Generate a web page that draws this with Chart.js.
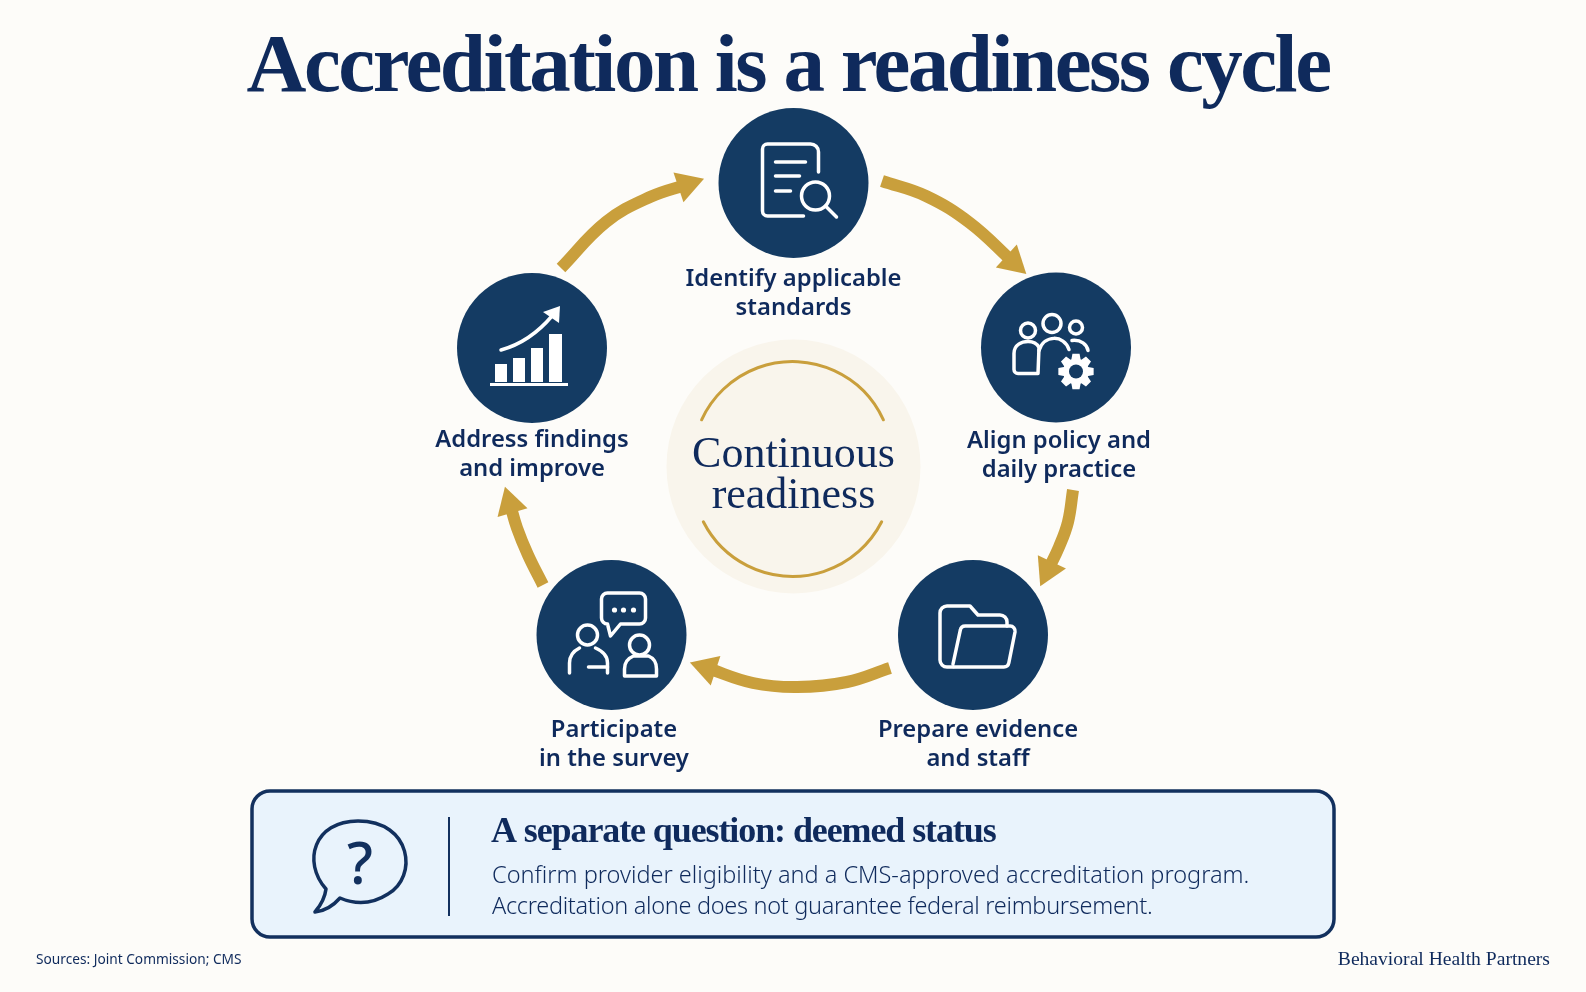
<!DOCTYPE html>
<html>
<head>
<meta charset="utf-8">
<title>Accreditation is a readiness cycle</title>
<script src="https://cdn.jsdelivr.net/npm/chart.js@4"></script>
<style>
html, body { margin: 0; padding: 0; background: #fdfcf9; }
#wrap { width: 1586px; height: 992px; }
</style>
</head>
<body>
<div id="wrap"><canvas id="cycleChart"></canvas></div>
<script>
// the five steps, in cycle order
const stepLabels = [
    ['Identify applicable', 'standards'],
    ['Align policy and', 'daily practice'],
    ['Prepare evidence', 'and staff'],
    ['Participate', 'in the survey'],
    ['Address findings', 'and improve']
];
const stepX = [793.5, 1056, 973, 611.5, 532];
const stepY = [183, 347.5, 635, 635, 348];
const labelX = [793.5, 1059, 978, 614, 532];
const labelY = [286, 447.5, 737, 737, 446.5];

// arrows between steps, the last point is where the head sits
const arrow1 = [{x: 882, y: 181}, {x: 926, y: 196}, {x: 970, y: 223}, {x: 1013, y: 262}];
const arrow2 = [{x: 1073, y: 490}, {x: 1068, y: 522}, {x: 1059, y: 547}, {x: 1048, y: 570}];
const arrow3 = [{x: 890, y: 668}, {x: 847, y: 682}, {x: 797, y: 687}, {x: 753, y: 683}, {x: 707, y: 668}];
const arrow4 = [{x: 543, y: 585}, {x: 528, y: 555}, {x: 517, y: 528}, {x: 510, y: 504}];
const arrow5 = [{x: 561, y: 268}, {x: 606, y: 222}, {x: 650, y: 197}, {x: 687, y: 184.5}];

const hubX = [793.5];
const hubY = [466.5];
const hubLabel = ['Continuous', 'readiness'];

const titleText = 'Accreditation is a readiness cycle';
const noteTitle = 'A separate question: deemed status';
const noteLines = [
    'Confirm provider eligibility and a CMS-approved accreditation program.',
    'Accreditation alone does not guarantee federal reimbursement.'
];
const sourceText = 'Sources: Joint Commission; CMS';
const brandText = 'Behavioral Health Partners';

const navy = '#0f2a5c';
const circleBlue = '#143b63';
const gold = '#c99f3c';
const serif = '"Liberation Serif", serif';
const sans = '"Noto Sans", sans-serif';

function arrowDataset(points) {
    const n = points.length;
    const a = points[n - 2];
    const b = points[n - 1];
    const rot = Math.atan2(b.x - a.x, a.y - b.y) * 180 / Math.PI;
    return {
        data: points,
        showLine: true,
        tension: 0.4,
        borderColor: gold,
        borderWidth: 12,
        borderCapStyle: 'butt',
        pointStyle: 'triangle',
        pointRadius: points.map((p, i) => i === n - 1 ? 18 : 0),
        pointRotation: rot,
        pointBackgroundColor: gold,
        pointBorderWidth: 0,
        clip: false,
        order: 3
    };
}

function text(ctx, str, x, y, font, color, align, spacing) {
    ctx.font = font;
    ctx.fillStyle = color;
    ctx.textAlign = align || 'center';
    ctx.textBaseline = 'alphabetic';
    ctx.letterSpacing = spacing || '0px';
    ctx.fillText(str, x, y);
    ctx.letterSpacing = '0px';
}

function line(ctx, x1, y1, x2, y2) {
    ctx.beginPath();
    ctx.moveTo(x1, y1);
    ctx.lineTo(x2, y2);
    ctx.stroke();
}

function circle(ctx, x, y, r) {
    ctx.beginPath();
    ctx.arc(x, y, r, 0, Math.PI * 2);
    ctx.stroke();
}

function iconDocument(ctx) {
    ctx.beginPath();
    ctx.moveTo(25, -11);
    ctx.lineTo(25, -31);
    ctx.arcTo(25, -39, 17, -39, 8);
    ctx.lineTo(-26, -39);
    ctx.arcTo(-31, -39, -31, -34, 5);
    ctx.lineTo(-31, 28);
    ctx.arcTo(-31, 33, -26, 33, 5);
    ctx.lineTo(10, 33);
    ctx.stroke();
    line(ctx, -18, -21, 12, -21);
    line(ctx, -18, -7, 6, -7);
    line(ctx, -18, 8, -3, 8);
    circle(ctx, 22, 13, 14);
    line(ctx, 32, 23, 43, 34);
}

function iconPeople(ctx) {
    circle(ctx, -28, -17, 7.5);
    circle(ctx, -4, -24, 9);
    circle(ctx, 20, -20, 6.5);
    ctx.beginPath();
    ctx.moveTo(-18, 26);
    ctx.lineTo(-38, 26);
    ctx.arcTo(-42, 26, -42, 22, 4);
    ctx.lineTo(-42, 6);
    ctx.bezierCurveTo(-42, -3, -34, -6, -28, -6);
    ctx.bezierCurveTo(-23, -6, -19, -4, -17, 0);
    ctx.lineTo(-18, 26);
    ctx.stroke();
    ctx.beginPath();
    ctx.moveTo(-17, 3);
    ctx.bezierCurveTo(-12, -13, 8, -13, 13, 2);
    ctx.stroke();
    ctx.beginPath();
    ctx.moveTo(16, -7);
    ctx.bezierCurveTo(25, -8, 31, -3, 32, 3);
    ctx.stroke();
    // gear
    ctx.save();
    ctx.translate(20, 24);
    ctx.beginPath();
    for (let i = 0; i < 8; i++) {
        const a = i * Math.PI / 4;
        for (const [r, d] of [[13, -0.36], [18, -0.2], [18, 0.2], [13, 0.36]]) {
            ctx.lineTo(Math.cos(a + d) * r, Math.sin(a + d) * r);
        }
    }
    ctx.closePath();
    ctx.fill();
    ctx.fillStyle = circleBlue;
    ctx.beginPath();
    ctx.arc(0, 0, 7, 0, Math.PI * 2);
    ctx.fill();
    ctx.restore();
}

function iconFolder(ctx) {
    ctx.beginPath();
    ctx.moveTo(-20, 32);
    ctx.lineTo(-26, 32);
    ctx.arcTo(-33, 32, -33, 25, 7);
    ctx.lineTo(-33, -22);
    ctx.arcTo(-33, -29, -26, -29, 7);
    ctx.lineTo(-3, -29);
    ctx.lineTo(5, -20);
    ctx.lineTo(27, -20);
    ctx.arcTo(34, -20, 34, -13, 7);
    ctx.lineTo(34, -9);
    ctx.stroke();
    ctx.beginPath();
    ctx.moveTo(-19, 32);
    ctx.lineTo(30, 32);
    ctx.arcTo(35, 32, 36, 27, 5);
    ctx.lineTo(42, -3);
    ctx.arcTo(43, -9, 37, -9, 5);
    ctx.lineTo(-6, -9);
    ctx.arcTo(-12, -9, -13, -3, 5);
    ctx.lineTo(-20, 29);
    ctx.stroke();
}

function iconSurvey(ctx) {
    ctx.beginPath();
    ctx.moveTo(-4, -11);
    ctx.lineTo(-1, 1);
    ctx.lineTo(9, -11);
    ctx.lineTo(28, -11);
    ctx.arcTo(34, -11, 34, -17, 6);
    ctx.lineTo(34, -36);
    ctx.arcTo(34, -42, 28, -42, 6);
    ctx.lineTo(-4, -42);
    ctx.arcTo(-10, -42, -10, -36, 6);
    ctx.lineTo(-10, -17);
    ctx.arcTo(-10, -11, -4, -11, 6);
    ctx.stroke();
    for (const dx of [3, 12, 22]) {
        ctx.beginPath();
        ctx.arc(dx, -25, 2.6, 0, Math.PI * 2);
        ctx.fill();
    }
    circle(ctx, -24, 0, 10);
    ctx.beginPath();
    ctx.moveTo(-42, 38);
    ctx.lineTo(-42, 28);
    ctx.bezierCurveTo(-42, 21, -38, 16, -32, 13);
    ctx.stroke();
    ctx.beginPath();
    ctx.moveTo(-16, 13);
    ctx.bezierCurveTo(-9, 16, -4, 21, -4, 28);
    ctx.lineTo(-4, 38);
    ctx.stroke();
    line(ctx, -23, 32, -4, 32);
    circle(ctx, 28, 10, 10);
    ctx.beginPath();
    ctx.moveTo(13, 41);
    ctx.lineTo(13, 34);
    ctx.bezierCurveTo(13, 27, 17, 23, 22, 21);
    ctx.lineTo(37, 21);
    ctx.bezierCurveTo(42, 23, 45, 28, 45, 34);
    ctx.lineTo(45, 41);
    ctx.closePath();
    ctx.stroke();
}

function iconGrowth(ctx) {
    ctx.fillRect(-37, 16, 12, 18);
    ctx.fillRect(-19, 10, 12, 24);
    ctx.fillRect(-1, 0, 12, 34);
    ctx.fillRect(17, -14, 13, 48);
    ctx.fillRect(-42, 35, 78, 3);
    ctx.beginPath();
    ctx.moveTo(-31, 2);
    ctx.quadraticCurveTo(-2, -6, 20, -32);
    ctx.stroke();
    ctx.beginPath();
    ctx.moveTo(28, -42);
    ctx.lineTo(11, -36);
    ctx.lineTo(27, -25);
    ctx.closePath();
    ctx.fill();
}

const stepIcons = [iconDocument, iconPeople, iconFolder, iconSurvey, iconGrowth];

// callout box and its question bubble, sits under the marks
const backdropPlugin = {
    id: 'backdrop',
    beforeDatasetsDraw(chart) {
        const ctx = chart.ctx;
        const sx = chart.scales.x;
        const sy = chart.scales.y;
        ctx.save();
        ctx.beginPath();
        ctx.roundRect(sx.getPixelForValue(252), sy.getPixelForValue(791), 1082, 146, 18);
        ctx.fillStyle = '#e9f3fc';
        ctx.fill();
        ctx.lineWidth = 3.5;
        ctx.strokeStyle = '#12305e';
        ctx.stroke();
        ctx.lineWidth = 2;
        line(ctx, sx.getPixelForValue(449), sy.getPixelForValue(817), sx.getPixelForValue(449), sy.getPixelForValue(916));

        // question bubble
        ctx.lineWidth = 3.5;
        ctx.lineJoin = 'round';
        ctx.beginPath();
        ctx.moveTo(326, 889);
        ctx.bezierCurveTo(302, 862, 314, 821, 358, 821);
        ctx.bezierCurveTo(412, 821, 418, 877, 388, 894);
        ctx.bezierCurveTo(371, 905, 354, 904, 340, 898);
        ctx.bezierCurveTo(333, 906, 325, 911, 315, 912);
        ctx.bezierCurveTo(321, 905, 325, 897, 326, 889);
        ctx.closePath();
        ctx.stroke();
        ctx.restore();
    }
};

const textPlugin = {
    id: 'texts',
    afterDatasetsDraw(chart) {
        const ctx = chart.ctx;
        const sx = chart.scales.x;
        const sy = chart.scales.y;
        ctx.save();

        // icons inside the step circles
        stepIcons.forEach((draw, i) => {
            ctx.save();
            ctx.translate(sx.getPixelForValue(stepX[i]), sy.getPixelForValue(stepY[i]));
            ctx.strokeStyle = '#ffffff';
            ctx.fillStyle = '#ffffff';
            ctx.lineWidth = 3.5;
            ctx.lineCap = 'round';
            ctx.lineJoin = 'round';
            draw(ctx);
            ctx.restore();
        });

        // gold arcs round the hub
        const hx = sx.getPixelForValue(hubX[0]);
        const hy = sy.getPixelForValue(hubY[0]);
        ctx.strokeStyle = gold;
        ctx.lineWidth = 3;
        ctx.lineCap = 'round';
        ctx.beginPath();
        ctx.arc(hx - 1, hy - 5, 100, Math.PI + 0.43, -0.43);
        ctx.stroke();
        ctx.beginPath();
        ctx.arc(hx - 1, hy + 10, 100, 0.47, Math.PI - 0.47);
        ctx.stroke();

        text(ctx, titleText, 788, 91, 'bold 83px ' + serif, navy, 'center', '-2.5px');

        stepLabels.forEach((lines, i) => {
            lines.forEach((str, j) => {
                text(ctx, str, sx.getPixelForValue(labelX[i]), sy.getPixelForValue(labelY[i] + j * 29), '600 23.8px ' + sans, navy);
            });
        });

        text(ctx, hubLabel[0], hx, 467, '44px ' + serif, navy);
        text(ctx, hubLabel[1], hx, 508, '44px ' + serif, navy);

        text(ctx, noteTitle, 491, 842, 'bold 36px ' + serif, navy, 'left', '-1.1px');
        text(ctx, noteLines[0], 492, 883, '300 23.5px ' + sans, navy, 'left');
        text(ctx, noteLines[1], 492, 914, '300 23.5px ' + sans, navy, 'left', '-0.3px');
        text(ctx, '?', 360, 884, '500 58px ' + sans, '#12305e');

        text(ctx, sourceText, 36, 964, '13.7px ' + sans, navy, 'left');
        text(ctx, brandText, 1550, 965, '19.6px ' + serif, navy, 'right');
        ctx.restore();
    }
};

new Chart(document.getElementById('cycleChart'), {
    type: 'scatter',
    data: {
        datasets: [
            {
                data: stepX.map((x, i) => ({x: x, y: stepY[i]})),
                pointRadius: 75,
                pointBackgroundColor: circleBlue,
                pointBorderWidth: 0,
                clip: false,
                order: 1
            },
            {
                data: hubX.map((x, i) => ({x: x, y: hubY[i]})),
                pointRadius: 127,
                pointBackgroundColor: '#f9f5ec',
                pointBorderWidth: 0,
                clip: false,
                order: 2
            },
            arrowDataset(arrow1),
            arrowDataset(arrow2),
            arrowDataset(arrow3),
            arrowDataset(arrow4),
            arrowDataset(arrow5)
        ]
    },
    options: {
        responsive: true,
        maintainAspectRatio: false,
        animation: false,
        events: [],
        layout: { padding: 0, autoPadding: false },
        scales: {
            x: { type: 'linear', min: 0, max: 1586, display: false },
            y: { type: 'linear', min: 0, max: 992, reverse: true, display: false }
        },
        plugins: {
            legend: { display: false },
            tooltip: { enabled: false }
        }
    },
    plugins: [backdropPlugin, textPlugin]
});
</script>
</body>
</html>
